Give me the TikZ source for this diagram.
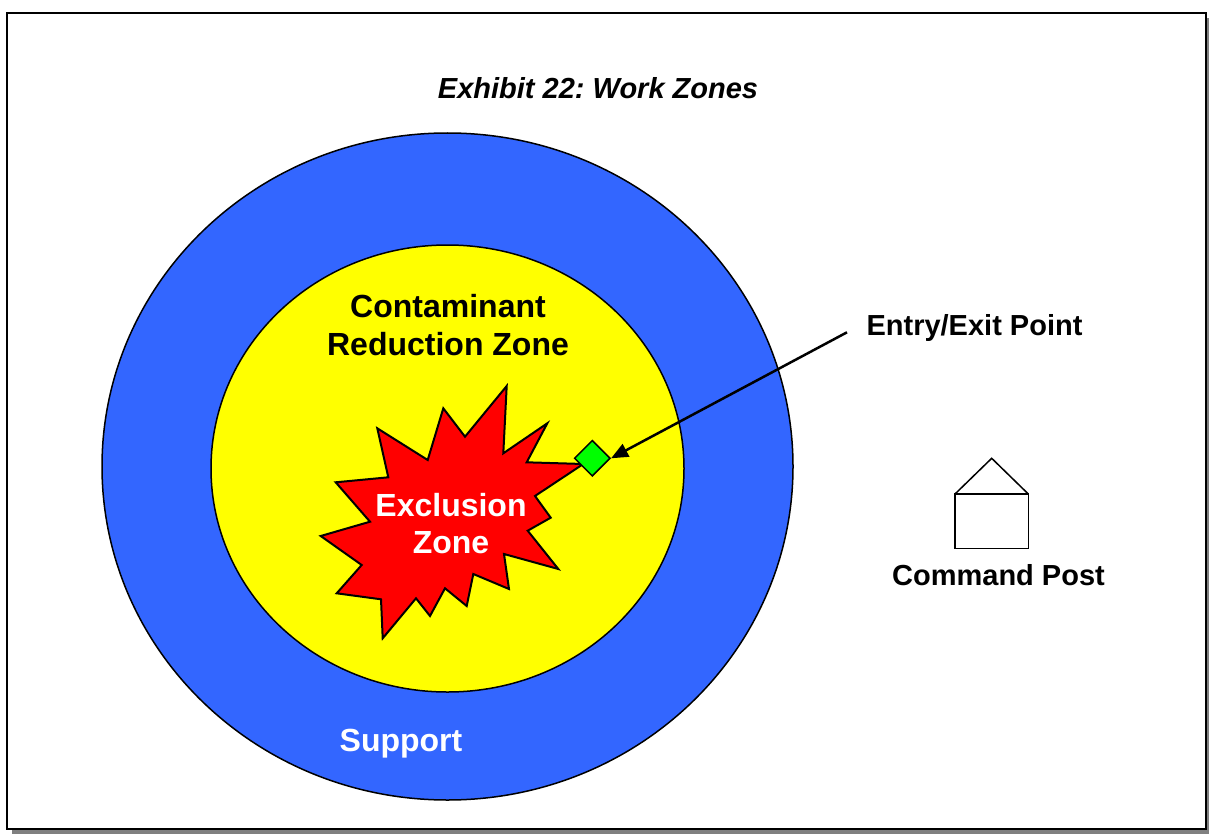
\documentclass[tikz,border=0pt]{standalone}
\usepackage{fontspec}
\setmainfont{Liberation Sans}
\usepackage{tikz}
\usetikzlibrary{arrows.meta,shapes.geometric,calc}
\frenchspacing

\definecolor{supportblue}{HTML}{3366FF}
\definecolor{crzyellow}{HTML}{FFFF00}
\definecolor{exred}{HTML}{FF0000}
\definecolor{gategreen}{HTML}{00FF00}

\begin{document}
\begin{tikzpicture}[x=1pt,y=-1pt,
  every node/.style={font=\fontsize{29}{38}\selectfont\bfseries,align=center,inner sep=0pt},
  zonetxt/.style={font=\fontsize{32}{37.5}\selectfont\bfseries},
  zoneline/.style={draw=black,line width=1.5pt},
  whitetxt/.style={zonetxt,text=white}]
  \useasboundingbox (0,0) rectangle (1209,837);
  % frame with shadow
  \fill[gray] (11.5,18.5) rectangle (1209,834);
  \draw[line width=2pt,fill=white] (6.7,13.5) rectangle (1206,828.5);

  \node[font=\fontsize{29}{38}\selectfont\bfseries\itshape,anchor=base] (title) at (598,98.5) {Exhibit 22: Work Zones};

  % zones
  \draw[zoneline,fill=supportblue] (447.5,466.5) ellipse [x radius=345.5,y radius=333.5];
  \draw[zoneline,fill=crzyellow] (447.5,468.5) ellipse [x radius=236.5,y radius=223.5];
  \draw[line width=2pt,fill=exred,line join=miter]
    (506.7,386) -- (503.3,453.3) -- (547.3,423.3) -- (526.7,462.3) -- (583.3,464)
    -- (535,496) -- (550.7,517.7) -- (527.7,530.7) -- (558.3,569) -- (504,554)
    -- (509,589) -- (473.3,574) -- (466.7,606) -- (445,588.3) -- (430,616)
    -- (416,598.3) -- (382.7,638.3) -- (381,599.3) -- (336.7,593.3) -- (361.7,565)
    -- (320.7,536) -- (370,521.7) -- (335.7,482.3) -- (388.3,477.3) -- (377.3,428.3)
    -- (427.7,460) -- (443.3,408.3) -- (465,436.7) -- cycle;

  \node[zonetxt] (crz) at (448,325) {Contaminant\\Reduction Zone};
  \node[whitetxt] (excl) at (451,523.5) {Exclusion\\Zone};
  \node[whitetxt,anchor=base] (support) at (401,751.5) {Support};

  % entry / exit point
  \node[diamond,draw,line width=1.5pt,fill=gategreen,minimum size=36pt] (gate) at (592.3,458.3) {};
  \node[anchor=base] (entry) at (974.5,335.5) {Entry/Exit Point};
  \coordinate (tail) at (847,332.3);
  \draw[line width=2.5pt,-{Triangle[length=17pt,width=14pt]}] (tail) -- (gate.east);

  % command post
  \draw[line width=1.5pt] (955,494) rectangle (1028.3,548.3);
  \draw[line width=1.5pt] (955,494) -- (991.7,458.3) -- (1028.3,494);
  \node[anchor=base] (post) at (998.5,585.5) {Command Post};
\end{tikzpicture}
\end{document}
